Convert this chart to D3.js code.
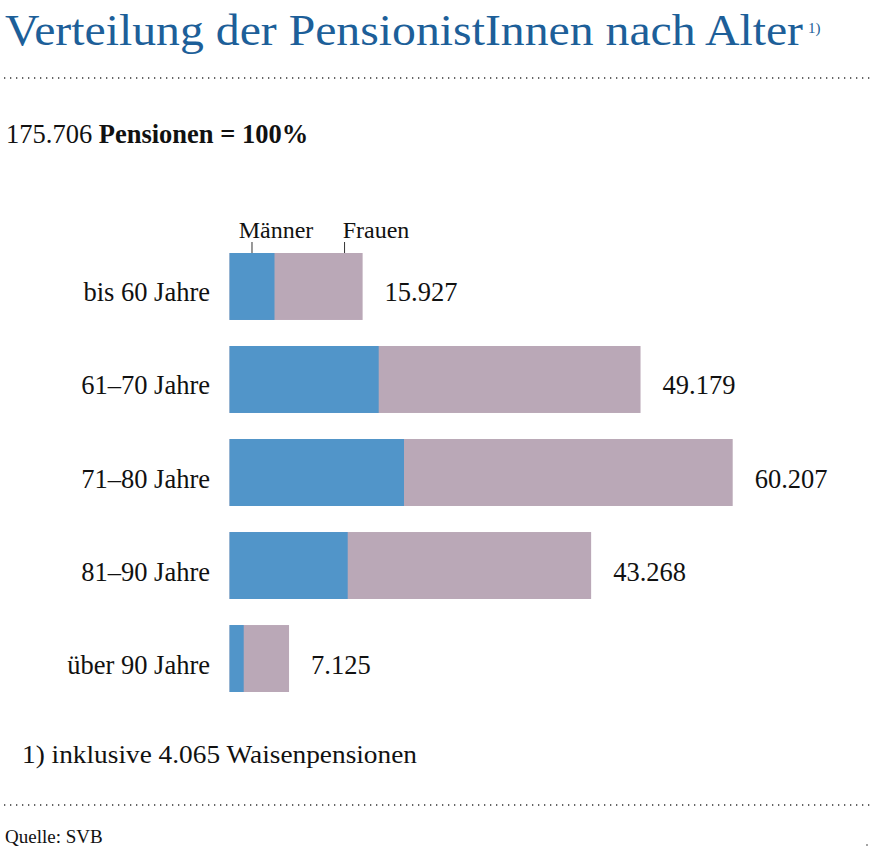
<!DOCTYPE html>
<html>
<head>
<meta charset="utf-8">
<script src="https://cdn.jsdelivr.net/npm/d3@7"></script>
<style>
  body { margin: 0; background: #fff; }
</style>
</head>
<body>
<div id="chart"></div>
<script>
// data
var categories = ["bis 60 Jahre", "61–70 Jahre", "71–80 Jahre", "81–90 Jahre", "über 90 Jahre"];
var totals = [15927, 49179, 60207, 43268, 7125];
var maenner = [5384, 17851, 20878, 14143, 1700];
var totalLabels = ["15.927", "49.179", "60.207", "43.268", "7.125"];

var W = 879, H = 854;
var blue = "#5195c9", mauve = "#baa8b7";
var serif = "'Liberation Serif', 'Times New Roman', serif";

var svg = d3.select("#chart").append("svg")
    .attr("width", W)
    .attr("height", H)
    .attr("font-family", serif);

// title
var title = svg.append("text")
    .attr("x", 5).attr("y", 45)
    .attr("font-family", serif)
    .style("font-size", "44px")
    .style("fill", "#1d5f99")
    .text("Verteilung der PensionistInnen nach Alter");
title.attr("textLength", 798).attr("lengthAdjust", "spacingAndGlyphs");

svg.append("text")
    .attr("x", 808).attr("y", 33)
    .attr("font-family", serif)
    .style("font-size", "15px")
    .style("fill", "#1d5f99")
    .text("1)");

// dotted rules
function dotted(y) {
    svg.append("line")
        .attr("x1", 4).attr("x2", 872)
        .attr("y1", y).attr("y2", y)
        .style("stroke", "#333")
        .style("stroke-width", 1.3)
        .style("stroke-dasharray", "1.3,4.7");
}
dotted(78);
dotted(805);

// subtitle
var sub = svg.append("text")
    .attr("x", 6).attr("y", 143)
    .attr("font-family", serif)
    .style("font-size", "26.5px")
    .style("fill", "#111");
sub.append("tspan").text("175.706 ");
sub.append("tspan").style("font-weight", "bold").text("Pensionen = 100%");

// scales
var x = d3.scaleLinear().domain([0, d3.max(totals)]).range([229.5, 732.7]);
var y = d3.scaleBand().domain(categories).range([253, 692]).paddingInner(0.28).paddingOuter(0);

var rows = svg.selectAll(".row")
    .data(categories)
    .enter()
    .append("g")
    .attr("class", "row");

// frauen (full bar) then männer on top
rows.append("rect")
    .attr("x", x(0))
    .attr("y", function(d){ return y(d); })
    .attr("width", function(d, i){ return x(totals[i]) - x(0); })
    .attr("height", y.bandwidth())
    .style("fill", mauve);

rows.append("rect")
    .attr("x", x(0))
    .attr("y", function(d){ return y(d); })
    .attr("width", function(d, i){ return x(maenner[i]) - x(0); })
    .attr("height", y.bandwidth())
    .style("fill", blue);

// category labels
rows.append("text")
    .attr("x", 210)
    .attr("y", function(d){ return y(d) + y.bandwidth() / 2 + 15; })
    .attr("text-anchor", "end")
    .attr("font-family", serif)
    .style("font-size", "26.5px")
    .style("fill", "#111")
    .text(function(d){ return d; });

// value labels
rows.append("text")
    .attr("x", function(d, i){ return x(totals[i]) + 22; })
    .attr("y", function(d){ return y(d) + y.bandwidth() / 2 + 15; })
    .attr("font-family", serif)
    .style("font-size", "26.5px")
    .style("fill", "#111")
    .text(function(d, i){ return totalLabels[i]; });

// legend ticks on first bar
var firstY = y(categories[0]);
var legend = [
    { name: "Männer", xpos: (x(0) + x(maenner[0])) / 2, tx: 276 },
    { name: "Frauen", xpos: (x(maenner[0]) + x(totals[0])) / 2 + 26, tx: 376 }
];
legend.forEach(function(l){
    svg.append("line")
        .attr("x1", l.xpos).attr("x2", l.xpos)
        .attr("y1", firstY - 11).attr("y2", firstY)
        .style("stroke", "#333").style("stroke-width", 1);
    svg.append("text")
        .attr("x", l.tx)
        .attr("y", firstY - 15)
        .attr("text-anchor", "middle")
        .attr("font-family", serif)
        .style("font-size", "24px")
        .style("fill", "#111")
        .text(l.name);
});

// footnote and source
svg.append("text")
    .attr("x", 22).attr("y", 763)
    .attr("font-family", serif)
    .style("font-size", "26px")
    .attr("textLength", 395)
    .attr("lengthAdjust", "spacingAndGlyphs")
    .style("fill", "#111")
    .text("1) inklusive 4.065 Waisenpensionen");

svg.append("text")
    .attr("x", 5).attr("y", 843)
    .attr("font-family", serif)
    .style("font-size", "19px")
    .style("fill", "#111")
    .text("Quelle: SVB");

svg.append("circle")
    .attr("cx", 867).attr("cy", 845).attr("r", 0.8)
    .style("fill", "#333");
</script>
</body>
</html>
